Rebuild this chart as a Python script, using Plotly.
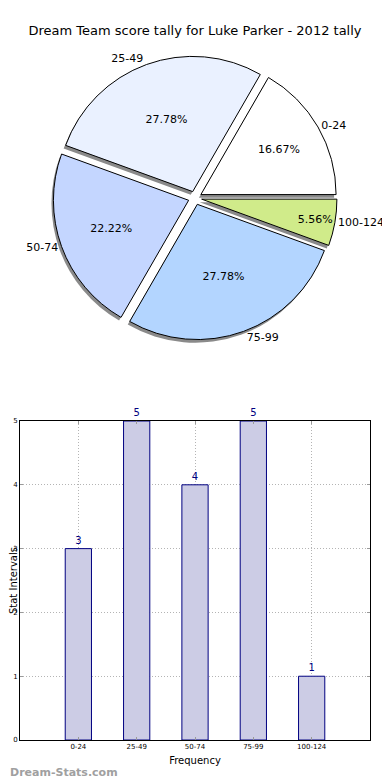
import plotly.graph_objects as go

categories = ["0-24", "25-49", "50-74", "75-99", "100-124"]
counts = [3, 5, 4, 5, 1]
pie_colors = ["#ffffff", "#eaf1ff", "#c4d6ff", "#b3d5ff", "#d0eb8a"]
title = "Dream Team score tally for Luke Parker - 2012 tally"

FONT = "DejaVu Sans"
pull = [0.05] * len(counts)

W, H = 390, 780
pie_dom_x = [0.02, 0.939]
pie_dom_y = [0.5744, 0.9385]
sx, sy = 0.005, 0.004

fig = go.Figure()

# shadow
fig.add_trace(go.Pie(
    labels=categories, values=counts, sort=False, direction="counterclockwise",
    rotation=30, pull=pull, textinfo="none", hoverinfo="skip",
    marker=dict(colors=["#8a8a8a"] * len(counts), line=dict(width=0)),
    domain=dict(x=[pie_dom_x[0] - sx, pie_dom_x[1] - sx],
                y=[pie_dom_y[0] - sy, pie_dom_y[1] - sy]),
    showlegend=False,
))
# main pie with percentages
fig.add_trace(go.Pie(
    labels=categories, values=counts, sort=False, direction="counterclockwise",
    rotation=30, pull=pull, texttemplate="%{percent:.2%}", textposition="inside",
    insidetextorientation="horizontal",
    insidetextfont=dict(family=FONT, size=11, color="#000000"),
    marker=dict(colors=pie_colors, line=dict(color="#000000", width=1)),
    domain=dict(x=pie_dom_x, y=pie_dom_y),
    showlegend=False,
))
# outside category labels
fig.add_trace(go.Pie(
    labels=categories, values=counts, sort=False, direction="counterclockwise",
    rotation=30, pull=pull, textinfo="label", textposition="outside",
    outsidetextfont=dict(family=FONT, size=11, color="#000000"),
    marker=dict(colors=["rgba(0,0,0,0)"] * len(counts), line=dict(width=0)),
    domain=dict(x=pie_dom_x, y=pie_dom_y), hoverinfo="skip",
    showlegend=False,
))

fig.add_trace(go.Bar(
    x=categories, y=counts, width=0.45,
    marker=dict(color="#cccce5", line=dict(color="#000080", width=1)),
    text=[str(c) for c in counts], textposition="outside", cliponaxis=False,
    textfont=dict(family=FONT, size=10, color="#000080"),
    showlegend=False,
))

axis_common = dict(
    showline=True, mirror="ticks", linecolor="#000000", linewidth=1,
    showgrid=True, gridcolor="#b4b4b4", griddash="1px,2px", gridwidth=1,
    ticks="inside", ticklen=3, tickcolor="#9a9a9a",
    tickfont=dict(family=FONT, size=7, color="#000000"),
    zeroline=False, automargin=False,
)

fig.update_layout(
    width=W, height=H,
    margin=dict(l=0, r=0, t=0, b=0, autoexpand=False),
    paper_bgcolor="white", plot_bgcolor="white",
    font=dict(family=FONT, color="#000000"),
    title=dict(text=title, x=0.4795, xanchor="center", y=0.9718, yanchor="middle",
               font=dict(family=FONT, size=13, color="#000000")),
    xaxis=dict(domain=[0.0308, 0.9282], range=[-1, 5], type="category",
               title=dict(text="Frequency", font=dict(family=FONT, size=10), standoff=6),
               **axis_common),
    yaxis=dict(domain=[0.0615, 0.4705], range=[0, 5], dtick=1,
               title=dict(text="Stat Intervals", font=dict(family=FONT, size=10), standoff=0),
               **axis_common),
)

fig.add_annotation(text="<b>Dream-Stats.com</b>", xref="paper", yref="paper",
                   x=0, y=0.0205, xanchor="left", yanchor="middle",
                   showarrow=False,
                   font=dict(family=FONT, size=11, color="#a0a0a0"))

fig.write_html("out.html")
